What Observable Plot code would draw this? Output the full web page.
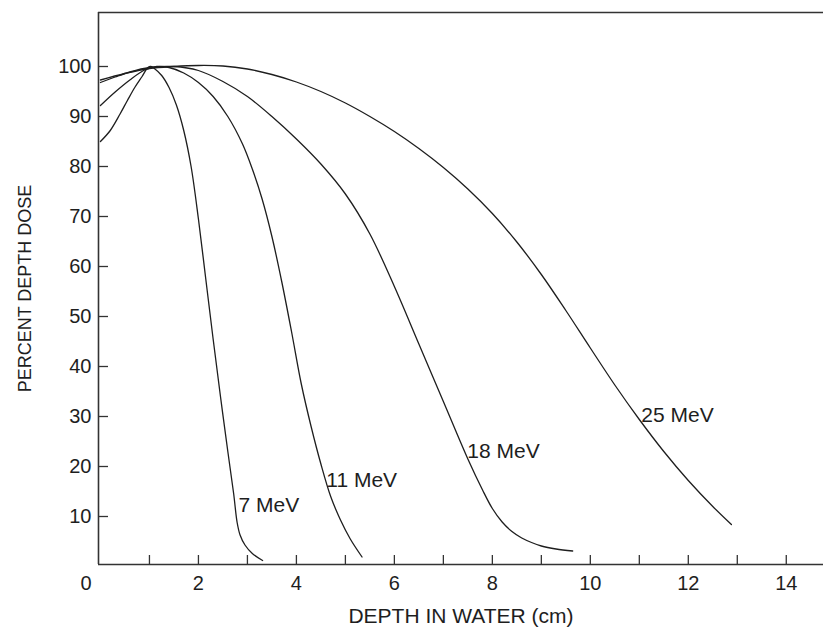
<!DOCTYPE html>
<html><head><meta charset="utf-8">
<script src="https://cdn.jsdelivr.net/npm/d3@7"></script>
<script src="https://cdn.jsdelivr.net/npm/@observablehq/plot@0.6"></script>
<style>
html,body{margin:0;padding:0;background:#fff;}
#chart svg{display:block;}
</style>
</head><body><div id="chart"></div>
<script>
// ---- data ----
const depth7 = [0, 0.2, 0.4, 0.55, 0.7, 0.85, 0.97, 1.03, 1.1, 1.25, 1.4, 1.55, 1.7, 1.85, 2.0, 2.15, 2.3, 2.45, 2.6, 2.72, 2.79, 2.85, 2.95, 3.1, 3.31];
const dose7  = [85, 87.2, 90.5, 93.2, 95.8, 98, 99.8, 100, 99.6, 98.2, 95.8, 92.3, 87.2, 80, 69.5, 57.5, 45.5, 34, 23, 14.5, 8.8, 6.3, 4.3, 2.6, 1.2];

const depth11 = [0, 0.3, 0.6, 0.9, 1.15, 1.4, 1.7, 2.0, 2.3, 2.6, 2.9, 3.1, 3.3, 3.5, 3.7, 3.9, 4.1, 4.3, 4.5, 4.7, 4.9, 5.1, 5.34];
const dose11  = [92.2, 94.9, 97.3, 99.3, 100, 99.8, 98.7, 96.8, 94, 90, 84.5, 79.5, 73.5, 66, 57, 47, 36.5, 28, 20.5, 14, 9.3, 5.5, 1.9];

const depth18 = [0, 0.3, 0.6, 1.0, 1.5, 2.0, 2.5, 3.0, 3.5, 4.0, 4.5, 5.0, 5.5, 6.0, 6.5, 7.0, 7.5, 7.8, 8.0, 8.2, 8.4, 8.6, 8.8, 9.0, 9.3, 9.64];
const dose18  = [96.8, 97.9, 98.9, 99.8, 100, 99.2, 97, 94, 90, 85.5, 80.5, 74.5, 66.5, 56, 44.5, 33, 21.5, 15.3, 11.6, 8.9, 7.0, 5.7, 4.8, 4.1, 3.5, 3.1];

const depth25 = [0, 0.5, 1.0, 1.5, 2.0, 2.5, 3.0, 3.5, 4.0, 4.5, 5.0, 5.5, 6.0, 6.5, 7.0, 7.5, 8.0, 8.5, 9.0, 9.5, 10.0, 10.5, 11.0, 11.5, 12.0, 12.5, 12.88];
const dose25  = [97.3, 98.6, 99.6, 100, 100.2, 100.1, 99.5, 98.4, 96.9, 95.0, 92.7, 90.0, 87.0, 83.6, 79.8, 75.5, 70.6, 64.9, 58.4, 51.2, 43.7, 36.3, 29.4, 23.0, 17.2, 12.0, 8.4];

const energies   = ["7 MeV", "11 MeV", "18 MeV", "25 MeV"];
const labelDepth = [2.82, 4.61, 7.49, 11.04];
const labelDose  = [12.2, 17.3, 23, 30.2];

const xTicks  = [1, 2, 3, 4, 5, 6, 7, 8, 9, 10, 11, 12, 13, 14];
const xLabels = [0, 2, 4, 6, 8, 10, 12, 14];
const yTicks  = [10, 20, 30, 40, 50, 60, 70, 80, 90, 100];
const xDomain = [-0.04, 14.76];
const yDomain = [0.4, 110.8];
const xTitle = "DEPTH IN WATER (cm)";
const yTitle = "PERCENT DEPTH DOSE";

// ---- build table ----
const seriesDepth = [depth7, depth11, depth18, depth25];
const seriesDose  = [dose7, dose11, dose18, dose25];
const rows = [];
energies.forEach((e, i) => seriesDepth[i].forEach((d, j) => rows.push({energy: e, depth: d, dose: seriesDose[i][j]})));
const labels = energies.map((e, i) => ({energy: e, depth: labelDepth[i], dose: labelDose[i]}));

const W = 823, H = 636, mL = 98, mR = 0, mT = 12, mB = 72;
const ink = "#1e1e1e";
const font = "'Liberation Sans', Arial, Helvetica, sans-serif";

const chart = Plot.plot({
  width: W, height: H,
  marginLeft: mL, marginRight: mR, marginTop: mT, marginBottom: mB,
  style: {fontFamily: font, background: "#fff", color: ink, overflow: "visible"},
  x: {domain: xDomain, axis: null},
  y: {domain: yDomain, axis: null},
  marks: [
    // frame: left, top, bottom
    Plot.ruleX([xDomain[0]], {stroke: "#333", strokeWidth: 1.6}),
    Plot.ruleY([yDomain[0], yDomain[1]], {stroke: "#333", strokeWidth: 1.6}),
    // inward ticks
    Plot.tickX(xTicks, {x: d => d, insetTop: (H - mT - mB) - 9, stroke: "#333", strokeWidth: 1.3}),
    Plot.tickY(yTicks, {y: d => d, insetRight: (W - mL - mR) - 10, stroke: "#333", strokeWidth: 1.3}),
    // tick labels
    Plot.text(yTicks, {y: d => d, frameAnchor: "left", textAnchor: "end", dx: -7, text: d => String(d), fontSize: 20, fill: ink}),
    Plot.text(xLabels.filter(d => d > 0), {x: d => d, frameAnchor: "bottom", lineAnchor: "top", dy: 11, text: d => String(d), fontSize: 20, fill: ink}),
    Plot.text(xLabels.filter(d => d === 0), {x: d => d, frameAnchor: "bottom", lineAnchor: "top", dy: 11, dx: -14.5, text: d => String(d), fontSize: 20, fill: ink}),
    // axis titles
    Plot.text([xTitle], {frameAnchor: "bottom", textAnchor: "middle", dy: 58.3, text: d => d, fontSize: 21, fill: ink}),
    Plot.text([yTitle], {frameAnchor: "left", textAnchor: "middle", rotate: -90, dx: -73, text: d => d, fontSize: 18, fill: ink}),
    // curves
    Plot.line(rows, {x: "depth", y: "dose", z: "energy", curve: "catmull-rom", stroke: ink, strokeWidth: 1.3}),
    // curve labels
    Plot.text(labels, {x: "depth", y: "dose", text: "energy", textAnchor: "start", fontSize: 21, fill: ink})
  ]
});
document.getElementById("chart").appendChild(chart);
</script>
</body></html>
